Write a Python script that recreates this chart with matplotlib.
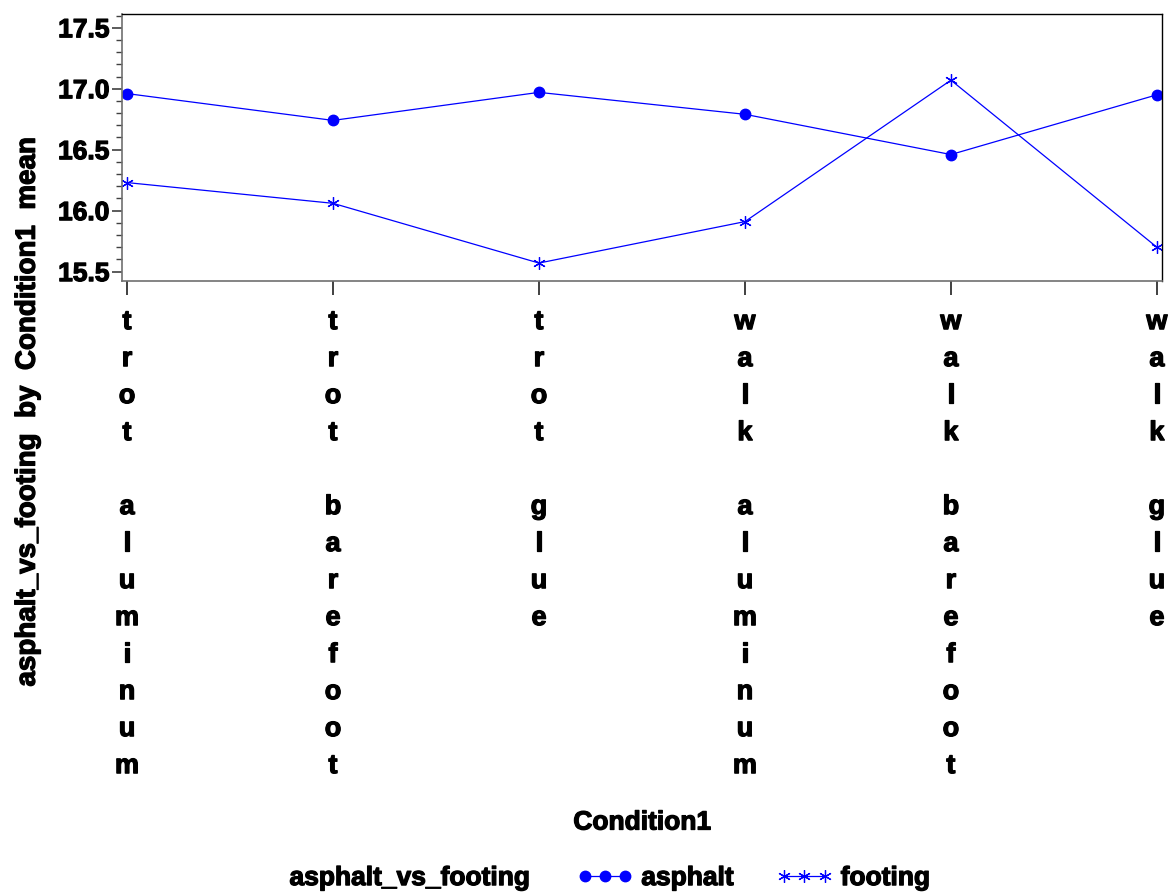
import numpy as np
import matplotlib.pyplot as plt
import matplotlib.patheffects as pe
from matplotlib.ticker import MultipleLocator

plt.rcParams['font.family'] = ['Liberation Sans', 'DejaVu Sans']
plt.rcParams['font.weight'] = 'bold'

# data
conditions = ["trot aluminum", "trot barefoot", "trot glue",
              "walk aluminum", "walk barefoot", "walk glue"]
asphalt = [16.96, 16.74, 16.97, 16.79, 16.46, 16.95]
footing = [16.23, 16.06, 15.57, 15.91, 17.07, 15.70]

blue = '#0000ff'
fs = 19
heavy = [pe.withStroke(linewidth=0.9, foreground='black')]

fig = plt.figure(figsize=(11.72, 8.96), dpi=100)
ax = fig.add_axes([0.104, 0.686, 0.8875, 0.298])

x = np.arange(len(conditions))
ax.plot(x, asphalt, color=blue, lw=0.9, marker='o', ms=7.5, label='asphalt')
ax.plot(x, footing, color=blue, lw=0.9, marker=(6, 2, 0), ms=9, mew=0.9,
        label='footing')

ax.set_xlim(-0.025, 5.025)
ax.set_ylim(15.42, 17.61)
ax.yaxis.set_minor_locator(MultipleLocator(0.1))
ax.set_yticks([15.5, 16.0, 16.5, 17.0, 17.5])
ax.set_yticklabels(['15.5', '16.0', '16.5', '17.0', '17.5'], fontsize=fs)

# vertical, one letter per line tick labels
vert = ['\n'.join(c) for c in conditions]
ax.set_xticks(x)
ax.set_xticklabels(vert, fontsize=19.5, linespacing=1.55, va='top')

for t in ax.get_xticklabels() + ax.get_yticklabels():
    t.set_path_effects(heavy)

for s in ['left', 'bottom']:
    ax.spines[s].set_color('#707070')
    ax.spines[s].set_linewidth(1.2)
for s in ['top', 'right']:
    ax.spines[s].set_color('black')
    ax.spines[s].set_linewidth(1.0)
ax.tick_params(axis='x', length=10, width=1.2, color='#202020', pad=10)
ax.tick_params(axis='y', which='major', length=7, width=1.2, color='#404040', pad=2)
ax.tick_params(axis='y', which='minor', length=4, width=1.0, color='#404040')

yl = ax.set_ylabel('asphalt_vs_footing  by  Condition1  mean', fontsize=20,
                   fontweight='bold')
yl.set_path_effects(heavy)
ax.yaxis.set_label_coords(-0.078, 0.5 - 0.99, transform=ax.transAxes)
t1 = fig.text(0.548, 0.082, 'Condition1', fontsize=fs, fontweight='bold',
              ha='center', va='center')
t1.set_path_effects(heavy)

# legend along the bottom
t2 = fig.text(0.247, 0.02, 'asphalt_vs_footing', fontsize=fs, fontweight='bold',
              ha='left', va='center')
t2.set_path_effects(heavy)
leg = ax.legend(loc='center left', bbox_to_anchor=(0.492, 0.02),
                bbox_transform=fig.transFigure, ncol=2, frameon=False,
                fontsize=fs, numpoints=3, handlelength=2.15, handletextpad=0.3,
                columnspacing=1.6, borderpad=0, borderaxespad=0)
for t in leg.get_texts():
    t.set_path_effects(heavy)

fig.savefig('out.png', dpi=100)
